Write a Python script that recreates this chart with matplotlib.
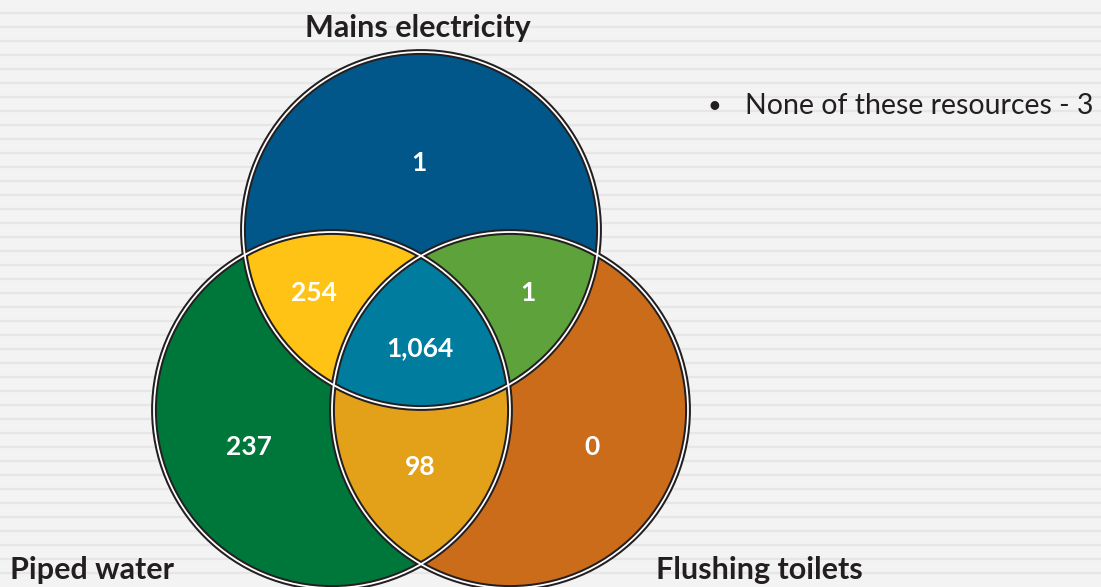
# Venn diagram: household access to resources
import numpy as np
import matplotlib.pyplot as plt
from matplotlib.patches import Circle, Polygon

# Data
set_names = ['Mains electricity', 'Piped water', 'Flushing toilets']
# regions: E only, E&W, E&T, E&W&T, W only, W&T, T only
region_names = ['E', 'EW', 'ET', 'EWT', 'W', 'WT', 'T']
region_counts = [1, 254, 1, 1064, 237, 98, 0]
none_count = 3

# Layout (pixel coordinates, y downwards)
centers = {'E': (421, 230), 'W': (332, 410), 'T': (510, 410)}
radius = 178
label_pos = {'E': (419, 163), 'EW': (314, 293), 'ET': (528, 293), 'EWT': (420, 348),
             'W': (249, 447), 'WT': (420, 467), 'T': (592, 447)}
colors = {'E': '#02578A', 'W': '#00773A', 'T': '#CB6C1A',
          'EW': '#FEC314', 'ET': '#5EA23B', 'WT': '#E3A11A', 'EWT': '#007D9E'}

plt.rcParams['font.family'] = ['Lato', 'DejaVu Sans']

fig = plt.figure(figsize=(11.01, 5.87), dpi=100)
ax = fig.add_axes([0, 0, 1, 1])
ax.set_xlim(0, 1101)
ax.set_ylim(587, 0)
ax.set_aspect('equal')
ax.axis('off')
fig.patch.set_facecolor('#F3F3F3')

# striped background
for y in np.arange(13, 587, 14):
    ax.axhline(y, color='#E6E6E6', lw=1.6, zorder=0)

# full circles
for k in ['E', 'W', 'T']:
    ax.add_patch(Circle(centers[k], radius, fc=colors[k], ec='none', zorder=1))

# pairwise intersections
for pair in ['EW', 'ET', 'WT']:
    clip = Circle(centers[pair[0]], radius, transform=ax.transData)
    p = Circle(centers[pair[1]], radius, fc=colors[pair], ec='none', zorder=2)
    ax.add_patch(p)
    p.set_clip_path(clip)

# triple intersection from boundary points inside the other circles
pts = []
t = np.linspace(0, 2 * np.pi, 2000)
for k in ['E', 'W', 'T']:
    cx, cy = centers[k]
    xs, ys = cx + radius * np.cos(t), cy + radius * np.sin(t)
    inside = np.ones_like(xs, dtype=bool)
    for j in ['E', 'W', 'T']:
        if j != k:
            jx, jy = centers[j]
            inside &= (xs - jx) ** 2 + (ys - jy) ** 2 <= radius ** 2 + 1e-6
    pts.append(np.column_stack([xs[inside], ys[inside]]))
pts = np.vstack(pts)
c = pts.mean(axis=0)
order = np.argsort(np.arctan2(pts[:, 1] - c[1], pts[:, 0] - c[0]))
ax.add_patch(Polygon(pts[order], closed=True, fc=colors['EWT'], ec='none', zorder=3))

# double outlines
for k in ['E', 'W', 'T']:
    ax.add_patch(Circle(centers[k], radius, fill=False, ec='#231F20', lw=4.2, zorder=4))
for k in ['E', 'W', 'T']:
    ax.add_patch(Circle(centers[k], radius, fill=False, ec='white', lw=1.3, zorder=5))

# counts
for name, val in zip(region_names, region_counts):
    x, y = label_pos[name]
    ax.text(x, y, f'{val:,}', color='white', fontsize=19, fontweight='bold',
            ha='center', va='center', zorder=6)

# set names
ax.text(418, 28, set_names[0], fontsize=22, fontweight='bold', color='#231F20',
        ha='center', va='center')
ax.text(10, 570, set_names[1], fontsize=22, fontweight='bold', color='#231F20',
        ha='left', va='center')
ax.text(656, 570, set_names[2], fontsize=22, fontweight='bold', color='#231F20',
        ha='left', va='center')

ax.text(707, 106, '\u2022', fontsize=17, color='#231F20', ha='left', va='center')
ax.text(745, 106, f'None of these resources - {none_count}', fontsize=20.5,
        color='#231F20', ha='left', va='center')

fig.savefig('out.png', dpi=100, facecolor=fig.get_facecolor())
